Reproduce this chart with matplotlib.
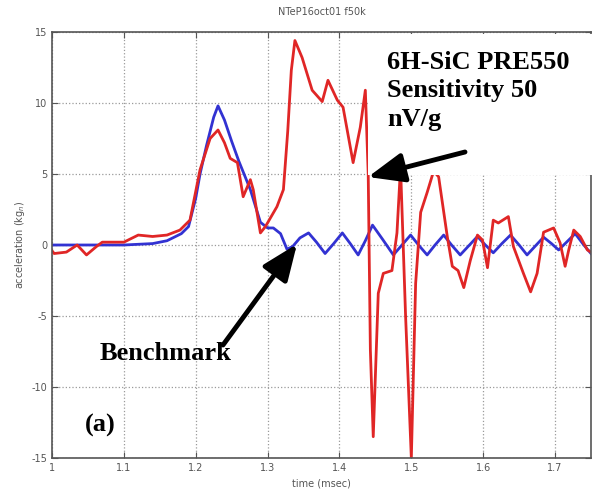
import matplotlib
matplotlib.use("Agg")
import matplotlib.pyplot as plt
from matplotlib.patches import Rectangle

plt.rcParams['axes.unicode_minus'] = False

# benchmark accelerometer (blue)
t_benchmark = [1.00, 1.05, 1.10, 1.14, 1.16, 1.18, 1.19, 1.20, 1.206, 1.215, 1.225, 1.231,
               1.24, 1.25, 1.26, 1.276, 1.29, 1.30, 1.308, 1.318, 1.327, 1.335, 1.345,
               1.357, 1.368, 1.38, 1.392, 1.404, 1.415, 1.426, 1.436, 1.446, 1.46, 1.475,
               1.487, 1.499, 1.51, 1.522, 1.533, 1.545, 1.556, 1.568, 1.58, 1.592, 1.603,
               1.614, 1.626, 1.638, 1.65, 1.661, 1.672, 1.684, 1.695, 1.705, 1.716, 1.728,
               1.74, 1.75]
acc_benchmark = [0.0, 0.0, 0.0, 0.1, 0.3, 0.8, 1.3, 3.3, 5.0, 7.0, 9.0, 9.8,
                 8.8, 7.3, 5.9, 3.9, 1.6, 1.2, 1.2, 0.8, -0.3, -0.1, 0.5,
                 0.85, 0.2, -0.6, 0.1, 0.85, 0.1, -0.7, 0.3, 1.4, 0.4, -0.7,
                 0.0, 0.7, 0.0, -0.7, 0.0, 0.7, 0.0, -0.7, -0.05, 0.6, 0.0,
                 -0.55, 0.1, 0.7, 0.0, -0.7, -0.1, 0.55, 0.1, -0.35, 0.2, 0.8,
                 0.0, -0.6]

# 6H-SiC PRE550 sensor (red)
t_sic = [1.000, 1.003, 1.02, 1.035, 1.048, 1.062, 1.07, 1.10, 1.12, 1.14, 1.16, 1.178,
         1.192, 1.206, 1.22, 1.231, 1.24, 1.248, 1.258, 1.266, 1.276, 1.28, 1.29, 1.297,
         1.313, 1.322, 1.328, 1.333, 1.338, 1.348, 1.362, 1.376, 1.384, 1.397, 1.405,
         1.419, 1.429, 1.436, 1.440, 1.443, 1.447, 1.454, 1.461, 1.473, 1.480, 1.485,
         1.492, 1.500, 1.506, 1.513, 1.522, 1.531, 1.538, 1.550, 1.557, 1.565, 1.573,
         1.582, 1.592, 1.599, 1.606, 1.614, 1.621, 1.635, 1.642, 1.656, 1.666, 1.675,
         1.684, 1.698, 1.707, 1.714, 1.719, 1.726, 1.735, 1.745, 1.75]
acc_sic = [-0.4, -0.6, -0.5, 0.0, -0.7, -0.1, 0.2, 0.2, 0.7, 0.6, 0.7, 1.05,
           1.75, 5.3, 7.5, 8.1, 7.2, 6.1, 5.8, 3.4, 4.6, 3.9, 0.85, 1.3,
           2.7, 3.9, 8.0, 12.3, 14.4, 13.2, 10.9, 10.1, 11.6, 10.2, 9.7,
           5.8, 8.3, 10.9, 5.0, -7.4, -13.5, -3.4, -2.0, -1.8, 0.85, 5.5,
           -5.0, -15.0, -2.7, 2.3, 3.7, 5.2, 4.8, 0.6, -1.5, -1.8, -3.0,
           -1.1, 0.7, 0.35, -1.6, 1.75, 1.55, 2.0, -0.1, -2.0, -3.3, -2.0,
           0.9, 1.2, 0.15, -1.5, -0.35, 1.05, 0.6, -0.35, -0.5]

x_ticks = [1.0, 1.1, 1.2, 1.3, 1.4, 1.5, 1.6, 1.7]
x_ticklabels = ['1', '1.1', '1.2', '1.3', '1.4', '1.5', '1.6', '1.7']
y_ticks = [-15, -10, -5, 0, 5, 10, 15]

W, H = 592, 493


def fpos(x, y):
    # pixel position (from top left) -> figure fraction
    return x / W, 1 - y / H


fig = plt.figure(figsize=(W / 100, H / 100), dpi=100)
ax = fig.add_axes([52 / W, 1 - 458 / H, (591 - 52) / W, (458 - 32) / H])

ax.plot(t_benchmark, acc_benchmark, color='#3232d2', lw=2)
ax.plot(t_sic, acc_sic, color='#e02626', lw=2)

ax.set_xlim(1, 1.75)
ax.set_ylim(-15, 15)
ax.set_xticks(x_ticks)
ax.set_xticklabels(x_ticklabels)
ax.set_yticks(y_ticks)
ax.grid(True, linestyle=':', color='#9a9a9a', lw=0.9)
ax.tick_params(direction='in', top=True, right=True, labelsize=7,
               labelcolor='#555555', color='#555555', length=4)
for sp in ax.spines.values():
    sp.set_color('#555555')
    sp.set_linewidth(1.2)

ax.set_title('NTeP16oct01 f50k', fontsize=7, color='#555555', pad=12)
ax.set_xlabel('time (msec)', fontsize=7, color='#555555', labelpad=4)
ax.set_ylabel('acceleration (kg$_n$)', fontsize=7, color='#555555', labelpad=3)

# white label box pasted over the plot
ax.add_patch(Rectangle(fpos(368, 175), (W - 368) / W, (175 - 34) / H,
                       transform=fig.transFigure, facecolor='white',
                       edgecolor='none', zorder=4, clip_on=False))

serif = dict(family='Liberation Serif', weight='bold', fontsize=19, color='black',
             transform=fig.transFigure, zorder=6)
ax.text(*fpos(387, 51), '6H-SiC PRE550\nSensitivity 50\nnV/g', va='top', ha='left',
        linespacing=1.3, **serif)
ax.text(*fpos(100, 360), 'Benchmark', va='baseline', ha='left', **serif)
ax.text(*fpos(85, 432), '(a)', va='baseline', ha='left', **serif)

arrow = dict(arrowstyle='-|>,head_length=1.1,head_width=0.45', lw=3.5, color='black',
             mutation_scale=20, shrinkA=0, shrinkB=0)
ax.annotate('', xy=fpos(368, 177), xytext=fpos(465, 152), xycoords='figure fraction',
            textcoords='figure fraction', arrowprops=arrow, zorder=6, annotation_clip=False)
ax.annotate('', xy=fpos(297, 244), xytext=fpos(223, 345), xycoords='figure fraction',
            textcoords='figure fraction', arrowprops=arrow, zorder=6, annotation_clip=False)

fig.savefig('out.png', dpi=100)
